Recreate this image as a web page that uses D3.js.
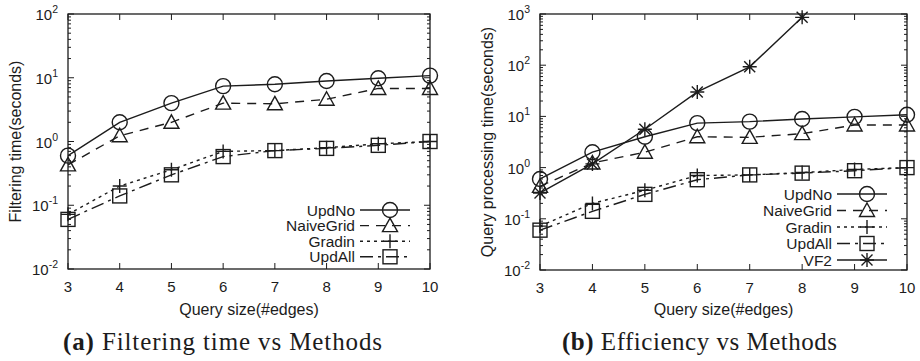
<!DOCTYPE html>
<html>
<head>
<meta charset="utf-8">
<script src="https://d3js.org/d3.v7.min.js"></script>
<style>
  body { margin: 0; background: #fff; }
</style>
</head>
<body>
<script>
// query size (#edges)
let steps = [3, 4, 5, 6, 7, 8, 9, 10];
let vf2Steps = [3, 4, 5, 6, 7, 8];

// seconds
let updNo = [0.6, 2.0, 4.0, 7.4, 7.9, 8.9, 9.8, 10.8];
let naiveGrid = [0.43, 1.23, 2.0, 4.0, 3.9, 4.6, 6.8, 6.8];
let gradin = [0.072, 0.2, 0.36, 0.7, 0.72, 0.8, 0.92, 1.0];
let updAll = [0.06, 0.14, 0.3, 0.58, 0.72, 0.78, 0.87, 1.0];
let vf2 = [0.32, 1.18, 5.6, 30, 93, 860];

let expLeft = [-2, -1, 0, 1, 2];
let expRight = [-2, -1, 0, 1, 2, 3];

let canvasW = 920;
let canvasH = 361;
let ink = "#1c1c1c";

let svg = d3.select("body").append("svg")
  .attr("width", canvasW)
  .attr("height", canvasH)
  .style("font-family", "'Liberation Sans', Arial, sans-serif");

let styles = {
  UpdNo: { dash: null, marker: "circle" },
  NaiveGrid: { dash: "9,7", marker: "triangle" },
  Gradin: { dash: "3,4", marker: "plus" },
  UpdAll: { dash: "13,5,3,5", marker: "square" },
  VF2: { dash: null, marker: "star" }
};

function drawMarker(g, type, x, y) {
  let m = g.append("g").attr("transform", "translate(" + x + "," + y + ")")
    .attr("fill", "none").attr("stroke", ink).attr("stroke-width", 1.4);
  if (type == "circle") {
    m.append("circle").attr("r", 7.5);
  } else if (type == "square") {
    m.append("rect").attr("x", -7).attr("y", -7).attr("width", 14).attr("height", 14);
  } else if (type == "triangle") {
    m.append("path").attr("d", "M0,-7.5L7.5,6L-7.5,6Z");
  } else if (type == "plus") {
    m.append("path").attr("d", "M-7,0H7M0,-7V7");
  } else if (type == "star") {
    m.append("path").attr("d", "M-7,0H7M0,-7V7M-5.5,-5.5L5.5,5.5M-5.5,5.5L5.5,-5.5");
  }
}

function panel(cfg) {
  let x = d3.scaleLinear().domain([3, 10]).range([cfg.left, cfg.right]);
  let y = d3.scaleLog().domain([Math.pow(10, cfg.exps[0]), Math.pow(10, cfg.exps[cfg.exps.length - 1])])
    .range([cfg.bottom, cfg.top]);

  let g = svg.append("g");

  // ticks, gnuplot style: inward and mirrored
  let yMajor = cfg.exps.map(e => Math.pow(10, e));
  let yMinor = [];
  cfg.exps.slice(0, -1).forEach(e => {
    for (let k = 2; k <= 9; k++) yMinor.push(k * Math.pow(10, e));
  });

  let ticks = g.append("g").attr("stroke", ink).attr("stroke-width", 1);
  yMajor.forEach(v => {
    ticks.append("line").attr("x1", cfg.left).attr("x2", cfg.left + 6).attr("y1", y(v)).attr("y2", y(v));
    ticks.append("line").attr("x1", cfg.right).attr("x2", cfg.right - 6).attr("y1", y(v)).attr("y2", y(v));
  });
  yMinor.forEach(v => {
    ticks.append("line").attr("x1", cfg.left).attr("x2", cfg.left + 3).attr("y1", y(v)).attr("y2", y(v));
    ticks.append("line").attr("x1", cfg.right).attr("x2", cfg.right - 3).attr("y1", y(v)).attr("y2", y(v));
  });
  steps.forEach(v => {
    ticks.append("line").attr("x1", x(v)).attr("x2", x(v)).attr("y1", cfg.bottom).attr("y2", cfg.bottom - 6);
    ticks.append("line").attr("x1", x(v)).attr("x2", x(v)).attr("y1", cfg.top).attr("y2", cfg.top + 6);
  });

  g.append("rect")
    .attr("x", cfg.left).attr("y", cfg.top)
    .attr("width", cfg.right - cfg.left).attr("height", cfg.bottom - cfg.top)
    .attr("fill", "none").attr("stroke", ink).attr("stroke-width", 1.3);

  // tick labels
  g.selectAll(null).data(steps).enter().append("text")
    .attr("x", d => x(d)).attr("y", cfg.bottom + 23)
    .attr("text-anchor", "middle").attr("font-size", "15px").attr("fill", ink)
    .text(d => d);

  cfg.exps.forEach(e => {
    let t = g.append("text")
      .attr("x", cfg.left - 10).attr("y", y(Math.pow(10, e)) + 6)
      .attr("text-anchor", "end").attr("font-size", "15px").attr("fill", ink);
    t.append("tspan").text("10");
    t.append("tspan").attr("font-size", "10.5px").attr("dy", -7).text(e);
  });

  g.append("text")
    .attr("x", (cfg.left + cfg.right) / 2).attr("y", 315)
    .attr("text-anchor", "middle").attr("font-size", "16px").attr("fill", ink)
    .text("Query size(#edges)");

  g.append("text")
    .attr("transform", "translate(" + cfg.yTitleX + "," + ((cfg.top + cfg.bottom) / 2) + ") rotate(-90)")
    .attr("text-anchor", "middle").attr("font-size", "16px").attr("fill", ink)
    .text(cfg.yTitle);

  // series
  let line = d3.line().x(d => x(d[0])).y(d => y(d[1]));
  cfg.series.forEach(s => {
    let pts = s.xs.map((v, i) => [v, s.values[i]]);
    g.append("path")
      .attr("d", line(pts))
      .attr("fill", "none").attr("stroke", ink).attr("stroke-width", 1.4)
      .attr("stroke-dasharray", styles[s.name].dash);
    pts.forEach(p => drawMarker(g, styles[s.name].marker, x(p[0]), y(p[1])));
  });

  // legend
  cfg.series.forEach((s, i) => {
    let ly = cfg.legendY + i * cfg.legendStep;
    g.append("text")
      .attr("x", cfg.right - 75).attr("y", ly + 5.5)
      .attr("text-anchor", "end").attr("font-size", "15.5px").attr("fill", ink)
      .text(s.name);
    g.append("line")
      .attr("x1", cfg.right - 70).attr("x2", cfg.right - 20).attr("y1", ly).attr("y2", ly)
      .attr("stroke", ink).attr("stroke-width", 1.4)
      .attr("stroke-dasharray", styles[s.name].dash);
    drawMarker(g, styles[s.name].marker, cfg.right - 40, ly);
  });

  // caption
  let cap = g.append("text")
    .attr("x", cfg.capX).attr("y", 350)
    .attr("font-family", "'Liberation Serif', 'DejaVu Serif', serif")
    .attr("font-size", "25px").attr("fill", ink)
    .attr("textLength", cfg.capW).attr("lengthAdjust", "spacing");
  cap.append("tspan").attr("font-weight", "bold").text(cfg.capTag);
  cap.append("tspan").text(" " + cfg.caption);
}

panel({
  left: 68, right: 430, top: 14, bottom: 269,
  exps: expLeft,
  yTitle: "Filtering time(seconds)", yTitleX: 21,
  legendY: 210, legendStep: 15.6,
  capX: 63, capW: 319, capTag: "(a)", caption: "Filtering time vs Methods",
  series: [
    { name: "UpdNo", xs: steps, values: updNo },
    { name: "NaiveGrid", xs: steps, values: naiveGrid },
    { name: "Gradin", xs: steps, values: gradin },
    { name: "UpdAll", xs: steps, values: updAll }
  ]
});

panel({
  left: 540, right: 907, top: 14, bottom: 270,
  exps: expRight,
  yTitle: "Query processing time(seconds)", yTitleX: 493,
  legendY: 194, legendStep: 16.5,
  capX: 562, capW: 275, capTag: "(b)", caption: "Efficiency vs Methods",
  series: [
    { name: "UpdNo", xs: steps, values: updNo },
    { name: "NaiveGrid", xs: steps, values: naiveGrid },
    { name: "Gradin", xs: steps, values: gradin },
    { name: "UpdAll", xs: steps, values: updAll },
    { name: "VF2", xs: vf2Steps, values: vf2 }
  ]
});
</script>
</body>
</html>
